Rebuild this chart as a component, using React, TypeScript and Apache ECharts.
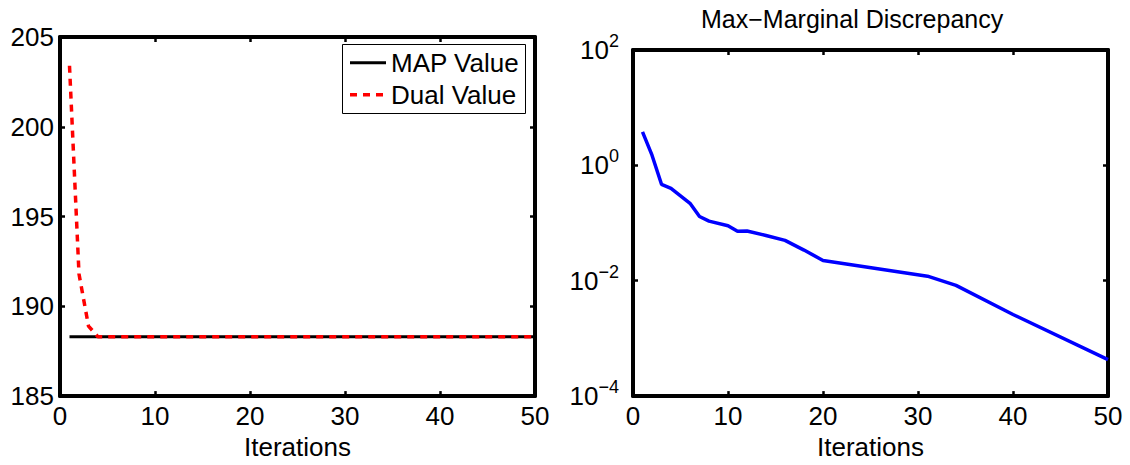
import React, { useEffect, useRef } from "react";
import * as echarts from "echarts";

// Left panel: MAP value vs dual value
const mapIters = [1, 50];
const mapValues = [188.3, 188.3];
const dualIters = [1, 2, 3, 4, 50];
const dualValues = [203.4, 191.8, 188.9, 188.3, 188.3];

// Right panel: max-marginal discrepancy (log scale)
const discIters = [1, 2, 3, 4, 6, 7, 8, 10, 11, 12, 14, 16, 18, 20, 31, 34, 40, 50];
const discValues = [3.8, 1.5, 0.47, 0.4, 0.22, 0.13, 0.108, 0.09, 0.072, 0.073, 0.061, 0.05, 0.034, 0.0225, 0.012, 0.0083, 0.0026, 0.00043];

const legendNames = ["MAP Value", "Dual Value"];
const xTicks = { min: 0, max: 50, interval: 10 };
const leftY = { min: 185, max: 205, interval: 5 };
const rightY = { min: 1e-4, max: 1e2, interval: 2 };

const FONT = "'Liberation Sans', Arial, Helvetica, sans-serif";
const RED_DASH = [7, 6];

export default function App() {
  const ref = useRef<HTMLDivElement>(null);
  useEffect(() => {
    if (!ref.current) return;
    const chart = echarts.init(ref.current, undefined, { renderer: "svg" });
    const axisLine = { show: true, onZero: false, lineStyle: { color: "#000", width: 4 } };
    const tick = { show: true, inside: true, length: 5, lineStyle: { color: "#000", width: 2.5 } };
    const label = { color: "#000", fontSize: 26, fontFamily: FONT };
    const xMain = (grid: number) => ({
      type: "value", gridIndex: grid, position: "bottom", ...xTicks,
      axisLine, axisTick: tick, splitLine: { show: false },
      axisLabel: { ...label, margin: 7 },
      name: "Iterations", nameLocation: "middle", nameGap: 30,
      nameTextStyle: { color: "#000", fontSize: 26, fontFamily: FONT },
    });
    const xMirror = (grid: number) => ({
      type: "value", gridIndex: grid, position: "top", ...xTicks,
      axisLine, axisTick: tick, splitLine: { show: false }, axisLabel: { show: false },
    });
    const supFmt = (v: number) => {
      const e = Math.round(Math.log10(v));
      const s = e < 0 ? "\u2212" + Math.abs(e) : String(e);
      return `{b|10}{s|${s}}`;
    };
    chart.setOption({
      animation: false,
      backgroundColor: "#fff",
      title: {
        text: "Max\u2212Marginal Discrepancy",
        left: 701, top: 6, padding: 0,
        textStyle: { color: "#000", fontSize: 25, fontWeight: "normal", fontFamily: FONT },
      },
      graphic: [
        { type: "rect", left: 342, top: 44, z: 100,
          shape: { x: 0, y: 0, width: 183, height: 69 },
          style: { fill: "#fff", stroke: "#000", lineWidth: 1 } },
        { type: "line", z: 101, shape: { x1: 350, y1: 62.7, x2: 386, y2: 62.7 },
          style: { stroke: "#000", lineWidth: 3 } },
        { type: "line", z: 101, shape: { x1: 350, y1: 94.7, x2: 386, y2: 94.7 },
          style: { stroke: "#ff0000", lineWidth: 3.5, lineDash: RED_DASH } },
        { type: "text", z: 101, x: 391, y: 62.7,
          style: { text: legendNames[0], fill: "#000", font: `26px ${FONT}`, textVerticalAlign: "middle", verticalAlign: "middle" } },
        { type: "text", z: 101, x: 391, y: 94.7,
          style: { text: legendNames[1], fill: "#000", font: `26px ${FONT}`, textVerticalAlign: "middle", verticalAlign: "middle" } },
      ],
      grid: [
        { left: 60, top: 37, right: 1130 - 535, bottom: 465 - 402, show: false },
        { left: 633, top: 50, right: 1130 - 1108, bottom: 465 - 402, show: false },
      ],
      xAxis: [xMain(0), xMirror(0), xMain(1), xMirror(1)],
      yAxis: [
        { type: "value", gridIndex: 0, position: "left", ...leftY, axisLine, axisTick: tick,
          splitLine: { show: false }, axisLabel: { ...label, margin: 6 } },
        { type: "value", gridIndex: 0, position: "right", ...leftY, axisLine, axisTick: tick,
          splitLine: { show: false }, axisLabel: { show: false } },
        { type: "log", logBase: 10, gridIndex: 1, position: "left", ...rightY,
          axisLine, axisTick: tick, minorTick: { show: false }, splitLine: { show: false },
          axisLabel: {
            color: "#000", margin: 14, formatter: supFmt,
            rich: {
              b: { fontSize: 26, lineHeight: 26, fontFamily: FONT, color: "#000" },
              s: { fontSize: 18, lineHeight: 18, fontFamily: FONT, color: "#000", padding: [0, 0, 18, 0] },
            },
          } },
        { type: "log", logBase: 10, gridIndex: 1, position: "right", ...rightY,
          axisLine, axisTick: tick, splitLine: { show: false }, axisLabel: { show: false } },
      ],
      series: [
        {
          name: legendNames[0], type: "line", xAxisIndex: 0, yAxisIndex: 0,
          data: mapIters.map((x, i) => [x, mapValues[i]]),
          symbol: "none", lineStyle: { color: "#000", width: 3 }, z: 2,
        },
        {
          name: legendNames[1], type: "line", xAxisIndex: 0, yAxisIndex: 0,
          data: dualIters.map((x, i) => [x, dualValues[i]]),
          symbol: "none", lineStyle: { color: "#ff0000", width: 3.5, type: RED_DASH, cap: "butt" }, z: 3,
        },
        {
          name: "Discrepancy", type: "line", xAxisIndex: 2, yAxisIndex: 2,
          data: discIters.map((x, i) => [x, discValues[i]]),
          symbol: "none", lineStyle: { color: "#0000ff", width: 3.5 },
        },
      ],
    });
    return () => chart.dispose();
  }, []);
  return <div ref={ref} style={{ position: "absolute", left: 0, top: 0, width: 1130, height: 465 }} />;
}
